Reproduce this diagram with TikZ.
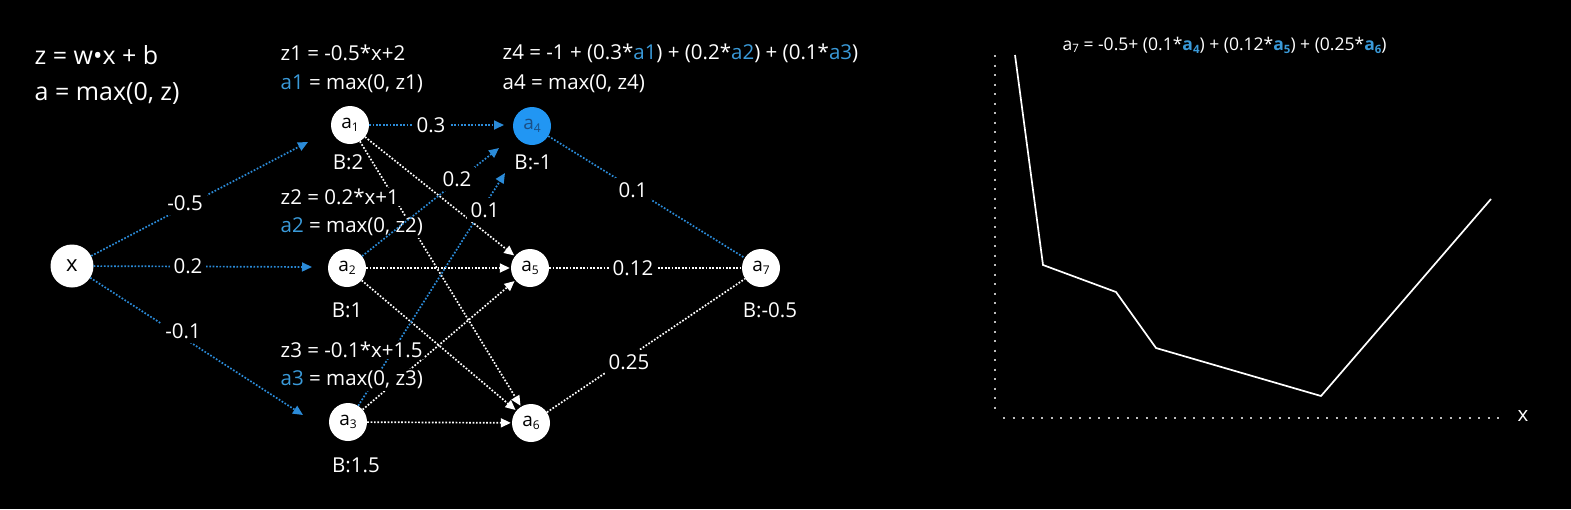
\documentclass[tikz,border=0pt]{standalone}
\usepackage{fontspec}
\setmainfont{Open Sans}
\usetikzlibrary{arrows.meta}
\definecolor{myblue}{HTML}{2196F3}
\definecolor{edgeblue}{HTML}{2B8BD8}
\definecolor{txtblue}{HTML}{3A9AD9}
\definecolor{afourtxt}{HTML}{1B4F85}
\definecolor{axisgray}{HTML}{BBBBBB}
\newcommand\sbs[1]{\raisebox{-0.3ex}{\fontsize{12}{12}\selectfont #1}}
\newcommand\ssbs[1]{\raisebox{-0.3ex}{\fontsize{11.5}{11.5}\selectfont #1}}
\begin{document}
\begin{tikzpicture}[x=1pt,y=-1pt,
  neuron/.style={circle,fill=white,minimum size=38pt,inner sep=0pt,font=\fontsize{19}{19}\selectfont,text=black},
  bedge/.style={edgeblue,line width=1.7pt,dash pattern=on 1.7pt off 1.7pt},
  wedge/.style={white,line width=1.7pt,dash pattern=on 1.7pt off 1.7pt},
  tip/.style={-{Triangle[length=10pt,width=9pt]}},
  wlab/.style={fill=black,text=white,inner sep=4pt,font=\fontsize{20.5}{20.5}\selectfont},
  eq/.style={anchor=west,fill=black,text=white,inner sep=1.5pt,font=\fontsize{20.5}{20.5}\selectfont},
  blab/.style={text=white,font=\fontsize{20.5}{20.5}\selectfont},
  axisdots/.style={axisgray,line width=2pt,dash pattern=on 2pt off 7.5pt},
]
\fill[black] (0,0) rectangle (1571,509);
\useasboundingbox (0,0) rectangle (1571,509);

% neurons
\node[neuron,minimum size=43pt,font=\fontsize{22}{22}\selectfont] (x) at (72,266) {x};
\node[neuron] (a1) at (350,125) {a\sbs{1}};
\node[neuron] (a2) at (347,268) {a\sbs{2}};
\node[neuron] (a3) at (348,422) {a\sbs{3}};
\node[neuron,fill=myblue,text=afourtxt] (a4) at (532,126) {a\sbs{4}};
\node[neuron] (a5) at (530,268) {a\sbs{5}};
\node[neuron] (a6) at (531,423) {a\sbs{6}};
\node[neuron] (a7) at (761,268) {a\sbs{7}};

% free arrow ends
\coordinate (tx1) at (308,142);
\coordinate (tx2) at (312,267);
\coordinate (tx3) at (303,415);
\coordinate (t14) at (504,125);
\coordinate (t24) at (499,148);
\coordinate (t34) at (505,173);

% connectors
\draw[bedge,tip] (x) -- (tx1);
\draw[bedge,tip] (x) -- (tx2);
\draw[bedge,tip] (x) -- (tx3);
\draw[bedge,tip] (a1) -- (t14);
\draw[wedge,tip,shorten >=1pt] (a1) -- (a5);
\draw[wedge,tip,shorten >=1pt] (a1) -- (a6);
\draw[wedge,tip,shorten >=1pt] (a2) -- (a5);
\draw[wedge,tip,shorten >=1pt] (a2) -- (a6);
\draw[bedge,tip] (a3) -- (t34);
\draw[wedge,tip,shorten >=1pt] (a3) -- (a5);
\draw[wedge,tip,shorten >=1pt] (a3) -- (a6);
\draw[bedge] (a4) -- (a7);
\draw[wedge] (a5) -- (a7);
\draw[wedge] (a6) -- (a7);

% equations
\node[eq,font=\fontsize{25}{25}\selectfont] (eqz) at (33,55) {z = w•x + b};
\node[eq,font=\fontsize{25}{25}\selectfont] (eqa) at (33,93) {a = max(0, z)};
\node[eq] (z1) at (279,53) {z1 = -0.5*x+2};
\node[eq] (e1) at (279,84) {\textcolor{txtblue}{a1} = max(0, z1)};
\node[eq] (z4) at (501,53) {z4 = -1 + (0.3*\textcolor{txtblue}{a1}) + (0.2*\textcolor{txtblue}{a2}) + (0.1*\textcolor{txtblue}{a3})};
\node[eq] (e4) at (501,84) {a4 = max(0, z4)};
\node[eq] (z2) at (279,197) {z2 = 0.2*x+1};
\node[eq] (e2) at (279,227) {\textcolor{txtblue}{a2} = max(0, z2)};
\node[eq] (z3) at (279,350) {z3 = -0.1*x+1.5};
\node[eq] (e3) at (279,380) {\textcolor{txtblue}{a3} = max(0, z3)};

% blue connector drawn above the text
\draw[bedge,tip] (a2) -- (t24);

% biases
\node[blab] (b1) at (348,162) {B:2};
\node[blab] (b4) at (533,162) {B:-1};
\node[blab] (b2) at (347,310) {B:1};
\node[blab] (b3) at (356,465) {B:1.5};
\node[blab] (b7) at (770,310) {B:-0.5};

% weights
\node[wlab] (lxa1) at (185,203) {-0.5};
\node[wlab] (lxa2) at (188,266) {0.2};
\node[wlab] (lxa3) at (183,331) {-0.1};
\node[wlab] (l14) at (431,125) {0.3};
\node[wlab] (l24) at (457,179) {0.2};
\node[wlab] (l34) at (485,210) {0.1};
\node[wlab] (l47) at (633,190) {0.1};
\node[wlab] (l57) at (633,268) {0.12};
\node[wlab] (l67) at (629,362) {0.25};

% plot
\node[eq,font=\fontsize{17.5}{17.5}\selectfont] (t7) at (1061,45) {a\ssbs{7} = -0.5+ (0.1*\textcolor{txtblue}{\bfseries a\ssbs{4}}) + (0.12*\textcolor{txtblue}{\bfseries a\ssbs{5}}) + (0.25*\textcolor{txtblue}{\bfseries a\ssbs{6}})};
\draw[axisdots] (995,55) -- (995,412);
\draw[axisdots] (1003,418) -- (1500,418);
\node[blab] (xl) at (1523,416) {x};
\draw[white,line width=1.7pt,line join=miter] (1015,55) -- (1043,265) -- (1116,292) -- (1156,348) -- (1321,396) -- (1491,199);
\end{tikzpicture}
\end{document}
